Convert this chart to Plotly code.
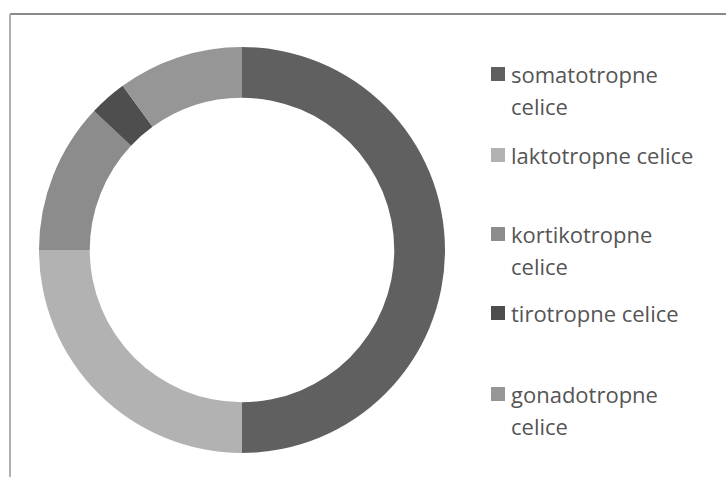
import plotly.graph_objects as go

# ---- data ----
categories = ["somatotropne celice", "laktotropne celice", "kortikotropne celice",
              "tirotropne celice", "gonadotropne celice"]
values = [50, 25, 12, 3, 10]
legend_labels = ["somatotropne<br>celice", "laktotropne celice", "kortikotropne<br>celice",
                 "tirotropne celice", "gonadotropne<br>celice"]
colors = ["#606060", "#b2b2b2", "#8c8c8c", "#4e4e4e", "#969696"]

W, H = 726, 477


def px(x):
    return x / W


def py(y):
    return 1 - y / H


fig = go.Figure()
fig.add_trace(go.Pie(
    labels=categories, values=values, hole=0.75, sort=False,
    direction="clockwise", rotation=0,
    marker=dict(colors=colors, line=dict(width=0)),
    textinfo="none", hoverinfo="label+percent", showlegend=False,
    domain=dict(x=[px(39), px(445)], y=[py(453), py(47)]),
))

shapes = [
    dict(type="line", xref="paper", yref="paper", x0=px(10), x1=1, y0=py(14), y1=py(14),
         line=dict(color="#8a8a8a", width=2)),
    dict(type="line", xref="paper", yref="paper", x0=px(10), x1=px(10), y0=py(14), y1=0,
         line=dict(color="#b0b0b0", width=2)),
]
annotations = []
item_top = [74, 155, 234, 313, 394]
line_gap = 31.5
for lab, col, y0 in zip(legend_labels, colors, item_top):
    shapes.append(dict(type="rect", xref="paper", yref="paper",
                       x0=px(491), x1=px(505), y0=py(y0 - 7), y1=py(y0 + 7),
                       fillcolor=col, line=dict(width=0)))
    for k, line in enumerate(lab.split("<br>")):
        annotations.append(dict(
            text=line, xref="paper", yref="paper", x=px(509), y=py(y0 + k * line_gap),
            xanchor="left", yanchor="middle", showarrow=False,
            font=dict(family="Open Sans", size=22, color="#555555")))

fig.update_layout(
    width=W, height=H, margin=dict(l=0, r=0, t=0, b=0),
    paper_bgcolor="white", plot_bgcolor="white",
    shapes=shapes, annotations=annotations, showlegend=False,
)
fig.write_html("out.html")
